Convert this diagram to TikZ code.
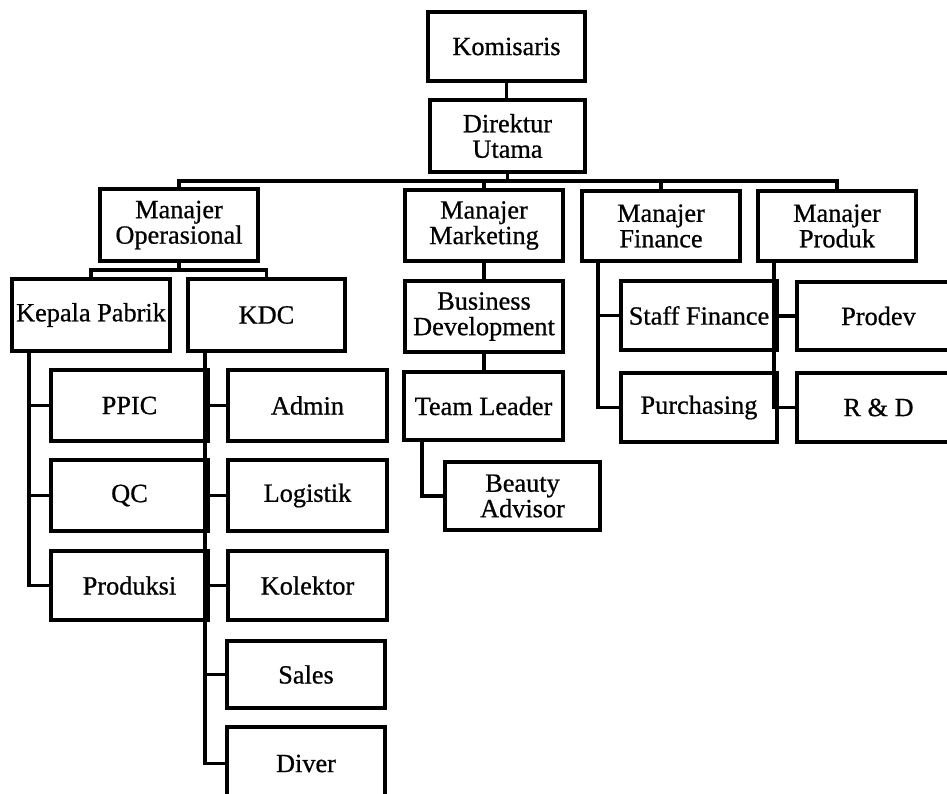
\documentclass[tikz,border=0pt]{standalone}
\usepackage{fontspec}
\setmainfont{Liberation Serif}
\newfontfamily\scanfont[FakeBold=0.7]{Liberation Serif}
\newcommand{\orgbox}[6]{%
  \pgfmathsetmacro{\obw}{#4-#2}%
  \pgfmathsetmacro{\obh}{#5-#3}%
  \node[orgnode,minimum width=\obw pt,minimum height=\obh pt] (#1) at ({(#2+#4)/2},{(#3+#5)/2}) {#6};}
\begin{document}
\begin{tikzpicture}[x=1pt,y=-1pt,
  orgnode/.style={draw,line width=3.2pt,inner sep=0pt,align=center,
    font=\scanfont\fontsize{26.3}{25.5}\selectfont},
  link/.style={line width=3.2pt,line join=miter}]
\useasboundingbox (0,0) rectangle (947,793);
% boxes
\orgbox{kom}{428}{12}{585}{81}{Komisaris}
\orgbox{dir}{430}{100}{585}{172}{Direktur\\Utama}
\orgbox{mop}{100}{189}{258}{261}{Manajer\\Operasional}
\orgbox{mmk}{405}{190}{563}{261}{Manajer\\Marketing}
\orgbox{mfi}{582}{191}{740}{261}{Manajer\\Finance}
\orgbox{mpr}{758}{191}{916}{261}{Manajer\\Produk}
\orgbox{kp}{12}{279}{170}{351}{Kepala Pabrik}
\orgbox{kdc}{188}{279}{345}{351}{KDC}
\orgbox{ppic}{51}{370}{208}{441}{PPIC}
\orgbox{qc}{51}{460}{208}{531}{QC}
\orgbox{prod}{51}{551}{208}{620}{Produksi}
\orgbox{admin}{228}{370}{387}{441}{Admin}
\orgbox{log}{228}{460}{387}{531}{Logistik}
\orgbox{kol}{228}{551}{387}{620}{Kolektor}
\orgbox{sales}{227}{641}{385}{708}{Sales}
\orgbox{diver}{227}{727}{385}{800}{Diver}
\orgbox{bd}{405}{281}{563}{352}{Business\\Development}
\orgbox{tl}{404}{372}{563}{440}{Team Leader}
\orgbox{ba}{445}{462}{600}{530}{Beauty\\Advisor}
\orgbox{sf}{621}{281}{777}{350}{Staff Finance}
\orgbox{pur}{621}{373}{777}{442}{Purchasing}
\orgbox{prodev}{797}{282}{960}{350}{Prodev}
\orgbox{rd}{797}{373}{960}{442}{R \& D}
% helper coordinates
\coordinate (bus) at (0,181);
\coordinate (ob) at (0,270);
\coordinate (kpx) at (29,0);
\coordinate (kdx) at (205,0);
\coordinate (tlx) at (422,0);
\coordinate (fx) at (598,0);
\coordinate (px) at (774,0);
% connectors
\draw[link] (kom.south) -- (kom.south |- dir.north);
\draw[link] (dir.south) -- (dir.south |- bus);
\draw[link] (mop.north) -- (mop.north |- bus) -- (mpr.north |- bus) -- (mpr.north);
\draw[link] (mmk.north) -- (mmk.north |- bus);
\draw[link] (mfi.north) -- (mfi.north |- bus);
\draw[link] (mop.south) -- (mop.south |- ob);
\draw[link] (kp.north) -- (kp.north |- ob) -- (kdc.north |- ob) -- (kdc.north);
\draw[link] (kp.south -| kpx) -- (kpx |- prod.west) -- (prod.west);
\draw[link] (kpx |- ppic.west) -- (ppic.west);
\draw[link] (kpx |- qc.west) -- (qc.west);
\draw[link] (kdc.south -| kdx) -- (kdx |- diver.west) -- (diver.west);
\draw[link] (kdx |- admin.west) -- (admin.west);
\draw[link] (kdx |- log.west) -- (log.west);
\draw[link] (kdx |- kol.west) -- (kol.west);
\draw[link] (kdx |- sales.west) -- (sales.west);
\draw[link] (mmk.south) -- (mmk.south |- bd.north);
\draw[link] (bd.south) -- (bd.south |- tl.north);
\draw[link] (tl.south -| tlx) -- (tlx |- ba.west) -- (ba.west);
\draw[link] (mfi.south -| fx) -- (fx |- pur.west) -- (pur.west);
\draw[link] (fx |- sf.west) -- (sf.west);
\draw[link] (mpr.south -| px) -- (px |- rd.west) -- (rd.west);
\draw[link] (px |- prodev.west) -- (prodev.west);
\end{tikzpicture}
\end{document}
